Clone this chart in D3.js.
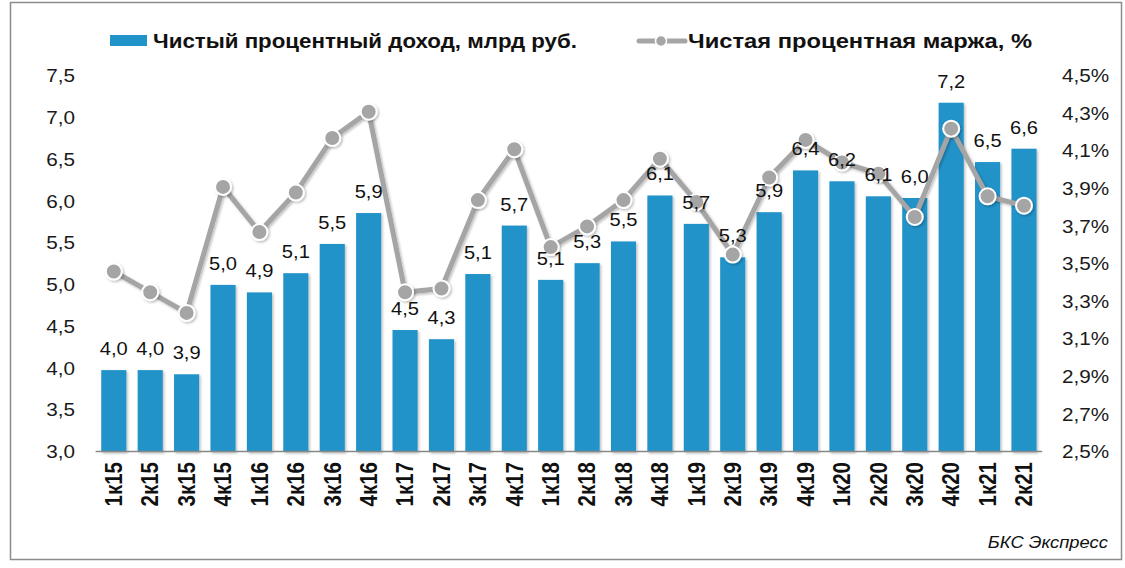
<!DOCTYPE html>
<html><head><meta charset="utf-8">
<script src="https://cdn.jsdelivr.net/npm/d3@7"></script>
<style>body{margin:0;background:#fff;} svg{display:block;font-family:"Liberation Sans",Arial,sans-serif;}</style>
</head><body>
<svg id="c" width="1125" height="568"></svg>
<script>
const categories = ["1к15","2к15","3к15","4к15","1к16","2к16","3к16","4к16","1к17","2к17","3к17","4к17","1к18","2к18","3к18","4к18","1к19","2к19","3к19","4к19","1к20","2к20","3к20","4к20","1к21","2к21"];
const incomeValues = [3.98,3.98,3.93,5.0,4.91,5.14,5.49,5.86,4.46,4.35,5.13,5.71,5.06,5.26,5.52,6.07,5.73,5.33,5.87,6.37,6.24,6.06,6.04,7.18,6.47,6.63];
const marginValues = [3.46,3.35,3.24,3.91,3.67,3.88,4.17,4.31,3.35,3.37,3.84,4.11,3.59,3.70,3.84,4.06,3.83,3.55,3.96,4.16,4.04,3.98,3.75,4.22,3.86,3.81];
const leftTicks = [3.0,3.5,4.0,4.5,5.0,5.5,6.0,6.5,7.0,7.5];
const rightTicks = [2.5,2.7,2.9,3.1,3.3,3.5,3.7,3.9,4.1,4.3,4.5];
const legendLabels = ["Чистый процентный доход, млрд руб.","Чистая процентная маржа, %"];
const sourceText = "БКС Экспресс";

const svg = d3.select("#c");
const fmt = v => d3.format(".1f")(v).replace(".", ",");
const barColor = "#2093C9", lineColor = "#A5A5A5";
const SX = 1.15; // horizontal stretch of text

// frame
svg.append("rect").attr("x",10.5).attr("y",2.5).attr("width",1111).attr("height",557)
  .attr("fill","none").attr("stroke","#8c8c8c").attr("stroke-width",1.5);

const x = d3.scaleBand().domain(categories).range([95.6,1042.2]).paddingInner(0.31).paddingOuter(0.155);
const yL = d3.scaleLinear().domain([3.0,7.5]).range([452,76]);
const yR = d3.scaleLinear().domain([2.5,4.5]).range([452,76]);

const defs = svg.append("defs");
const f = defs.append("filter").attr("id","sh").attr("x","-30%").attr("y","-30%").attr("width","160%").attr("height","160%");
f.append("feDropShadow").attr("dx",1.5).attr("dy",1.5).attr("stdDeviation",1.2).attr("flood-color","#000").attr("flood-opacity",0.25);

// bars
svg.append("g").selectAll("rect").data(incomeValues).join("rect")
  .attr("x",(d,i)=>x(categories[i])).attr("width",x.bandwidth())
  .attr("y",d=>yL(d)).attr("height",d=>yL(3.0)-yL(d))
  .attr("fill",barColor).attr("filter","url(#sh)");

// baseline
svg.append("line").attr("x1",95.6).attr("x2",1042.2).attr("y1",451.5).attr("y2",451.5)
  .attr("stroke","#888").attr("stroke-width",1.5);

// left axis
const axL = d3.axisLeft(yL).tickValues(leftTicks).tickFormat(fmt).tickSize(0).tickPadding(0);
const gL = svg.append("g").attr("transform","translate(75,0)").call(axL);
gL.select(".domain").remove();
gL.selectAll("text").attr("font-size",18).attr("fill","#1a1a1a").attr("font-family","'Liberation Sans',Arial,sans-serif")
  .attr("x",0).attr("transform",`scale(${SX},1)`);

// right axis
const axR = d3.axisRight(yR).tickValues(rightTicks).tickFormat(v=>fmt(v)+"%").tickSize(0).tickPadding(0);
const gR = svg.append("g").attr("transform","translate(1062,0)").call(axR);
gR.select(".domain").remove();
gR.selectAll("text").attr("font-size",18).attr("fill","#1a1a1a").attr("font-family","'Liberation Sans',Arial,sans-serif")
  .attr("x",0).attr("transform",`scale(${SX},1)`);

// x labels
const axB = d3.axisBottom(x).tickSize(0).tickPadding(0);
const gB = svg.append("g").attr("transform","translate(0,462)").call(axB);
gB.select(".domain").remove();
gB.selectAll("text").attr("font-size",20.5).attr("font-weight","bold").attr("fill","#111")
  .attr("font-family","'Liberation Sans',Arial,sans-serif")
  .attr("transform",`scale(${SX},1) rotate(-90)`).attr("text-anchor","end").attr("dy","0.35em").attr("x",0).attr("y",0);

// line
const cx = (d,i)=>x(categories[i])+x.bandwidth()/2;
svg.append("path").datum(marginValues)
  .attr("d", d3.line().x(cx).y(d=>yR(d)))
  .attr("fill","none").attr("stroke",lineColor).attr("stroke-width",5).attr("stroke-linejoin","round")
  .attr("filter","url(#sh)");
svg.append("g").selectAll("circle").data(marginValues).join("circle")
  .attr("cx",cx).attr("cy",d=>yR(d)).attr("r",8)
  .attr("fill",lineColor).attr("stroke","#fff").attr("stroke-width",2).attr("filter","url(#sh)");

// data labels
svg.append("g").selectAll("text").data(incomeValues).join("text")
  .attr("transform",(d,i)=>`translate(${cx(d,i)},${yL(d)-15}) scale(${SX},1)`)
  .attr("text-anchor","middle")
  .attr("font-size",17.5).attr("fill","#111").text(d=>fmt(d));

// legend
const lg = svg.append("g");
lg.append("rect").attr("x",110).attr("y",35).attr("width",37).attr("height",11).attr("fill",barColor);
lg.append("text").attr("x",153).attr("y",48).attr("font-size",20).attr("font-weight","bold").attr("fill","#111")
  .attr("textLength",424).attr("lengthAdjust","spacingAndGlyphs").text(legendLabels[0]);
lg.append("line").attr("x1",639).attr("x2",685).attr("y1",41).attr("y2",41).attr("stroke",lineColor).attr("stroke-width",5).attr("stroke-linecap","round");
lg.append("circle").attr("cx",661).attr("cy",41).attr("r",5.5).attr("fill",lineColor).attr("stroke","#fff").attr("stroke-width",1.5);
lg.append("text").attr("x",688).attr("y",48).attr("font-size",20).attr("font-weight","bold").attr("fill","#111")
  .attr("textLength",344).attr("lengthAdjust","spacingAndGlyphs").text(legendLabels[1]);

// source
svg.append("text").attr("transform",`translate(1108,548) scale(${SX},1)`).attr("text-anchor","end").attr("font-size",16)
  .attr("font-style","italic").attr("fill","#111").text(sourceText);
</script>
</body></html>
